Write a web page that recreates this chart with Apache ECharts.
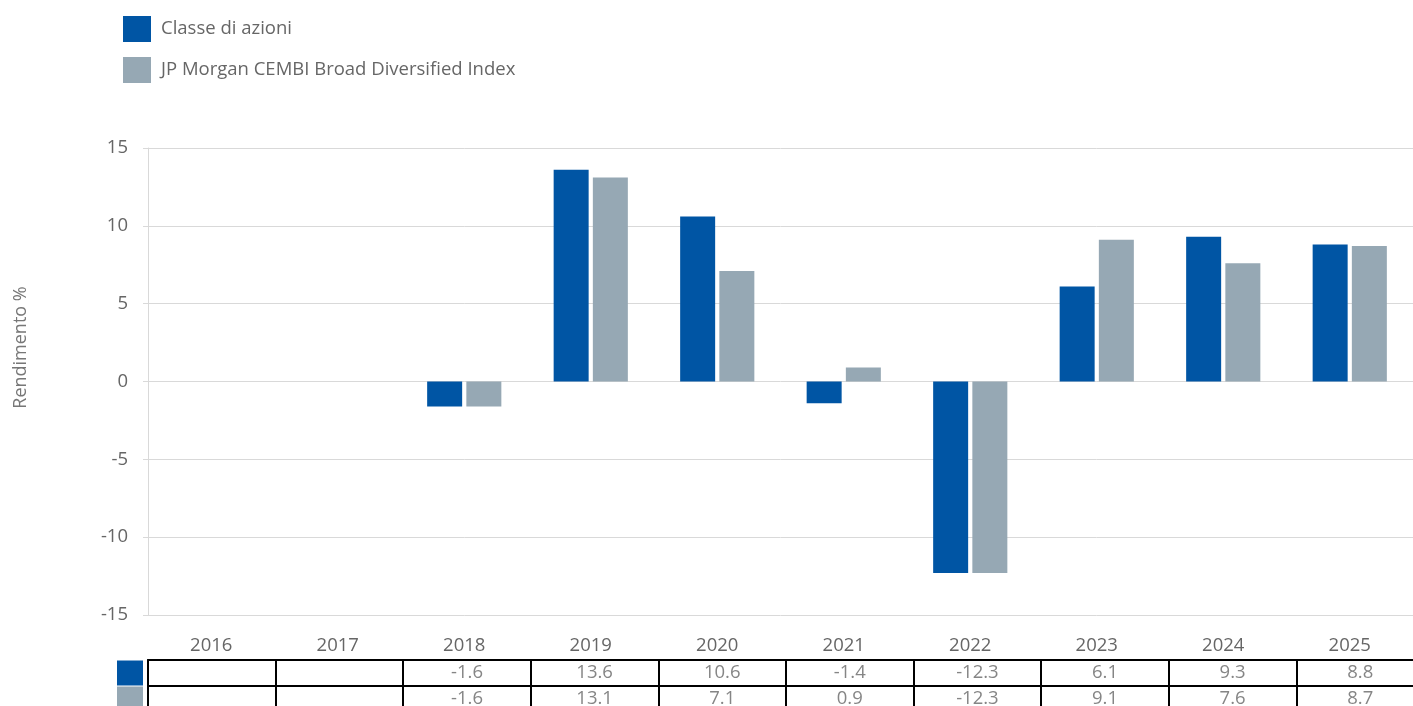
<!DOCTYPE html>
<html>
<head>
<meta charset="utf-8">
<script src="https://cdn.jsdelivr.net/npm/echarts@6/dist/echarts.min.js"></script>
<style>
  html, body { margin: 0; padding: 0; background: #fff; }
  #main { width: 1413px; height: 706px; }
</style>
</head>
<body>
<div id="main"></div>
<script>
var years = ['2016', '2017', '2018', '2019', '2020', '2021', '2022', '2023', '2024', '2025'];
var classeAzioni = [null, null, -1.6, 13.6, 10.6, -1.4, -12.3, 6.1, 9.3, 8.8];
var jpmCembi = [null, null, -1.6, 13.1, 7.1, 0.9, -12.3, 9.1, 7.6, 8.7];
var seriesNames = ['Classe di azioni', 'JP Morgan CEMBI Broad Diversified Index'];
var seriesColors = ['#0055a4', '#96a8b4'];
var yTicks = [-15, -10, -5, 0, 5, 10, 15];

var font = '"Open Sans", sans-serif';
var textColor = '#666666';

// table cells built from the series arrays
var tableCells = [];
[classeAzioni, jpmCembi].forEach(function (arr, row) {
  arr.forEach(function (v, i) {
    if (v !== null) tableCells.push([i, row, v]);
  });
});

var chartDom = document.getElementById('main');
var myChart = echarts.init(chartDom);
var option;

option = {
  animation: false,
  textStyle: { fontFamily: font },
  legend: {
    orient: 'vertical',
    left: 123,
    top: 16,
    padding: 0,
    itemWidth: 28,
    itemHeight: 26,
    itemGap: 15,
    icon: 'rect',
    textStyle: { color: textColor, fontSize: 18.5, fontFamily: font, padding: [3, 0, 0, 5] },
    data: seriesNames
  },
  grid: [
    { left: 148, right: 0, top: 148, bottom: 91 },
    { left: 148, width: 1276, top: 660, height: 52, outerBoundsMode: 'none' }
  ],
  xAxis: [
    {
      type: 'category',
      gridIndex: 0,
      data: years,
      axisLine: { show: false },
      axisTick: { show: false },
      axisLabel: { color: textColor, fontSize: 18.5, margin: 21, fontFamily: font }
    },
    {
      type: 'category',
      gridIndex: 1,
      position: 'top',
      data: years,
      axisLine: { show: true, lineStyle: { color: '#000', width: 2 } },
      axisTick: { show: false },
      axisLabel: { show: false },
      splitLine: { show: true, interval: 0, lineStyle: { color: '#000', width: 2 } }
    }
  ],
  yAxis: [
    {
      type: 'value',
      gridIndex: 0,
      min: yTicks[0],
      max: yTicks[yTicks.length - 1],
      interval: 5,
      name: 'Rendimento %',
      nameLocation: 'middle',
      nameGap: 118,
      nameTextStyle: { color: '#777777', fontSize: 18, fontFamily: font, padding: [0, 0, 0, 68] },
      axisLine: { show: true, lineStyle: { color: '#d9d9d9' } },
      axisTick: { show: true, length: 5, lineStyle: { color: '#d9d9d9' } },
      axisLabel: { color: textColor, fontSize: 18.5, margin: 20, fontFamily: font },
      splitLine: { lineStyle: { color: '#d9d9d9' } }
    },
    {
      type: 'category',
      gridIndex: 1,
      inverse: true,
      data: [0, 1],
      axisLine: { show: true, lineStyle: { color: '#000', width: 2 } },
      axisTick: { show: false },
      splitLine: { show: true, interval: 0, lineStyle: { color: '#000', width: 2 } },
      axisLabel: {
        margin: 5,
        interval: 0,
        hideOverlap: false,
        formatter: function (v) { return v == 0 ? '{a| }' : '{b| }'; },
        rich: {
          a: { backgroundColor: seriesColors[0], width: 26, height: 25 },
          b: { backgroundColor: seriesColors[1], width: 26, height: 25 }
        }
      }
    }
  ],
  series: [
    {
      name: seriesNames[0],
      type: 'bar',
      xAxisIndex: 0,
      yAxisIndex: 0,
      data: classeAzioni,
      barWidth: 35,
      barGap: '12%',
      itemStyle: { color: seriesColors[0] }
    },
    {
      name: seriesNames[1],
      type: 'bar',
      xAxisIndex: 0,
      yAxisIndex: 0,
      data: jpmCembi,
      barWidth: 35,
      barGap: '12%',
      itemStyle: { color: seriesColors[1] }
    },
    {
      name: 'tabella',
      type: 'scatter',
      xAxisIndex: 1,
      yAxisIndex: 1,
      symbolSize: 0,
      silent: true,
      data: tableCells,
      label: {
        show: true,
        position: 'inside',
        color: textColor,
        fontSize: 18.5,
        fontFamily: font,
        formatter: function (p) { return p.data[2].toFixed(1); }
      }
    }
  ]
};

option && myChart.setOption(option);
</script>
</body>
</html>
